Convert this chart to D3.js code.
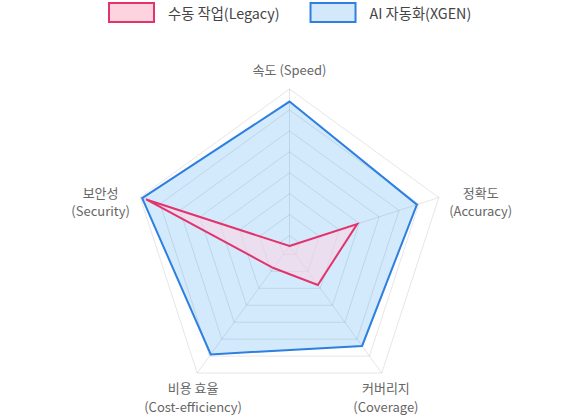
<!DOCTYPE html>
<html>
<head>
<meta charset="utf-8">
<script src="https://cdn.jsdelivr.net/npm/d3@7"></script>
<style>
	body{margin:0;background:#fff;font-family:"Noto Sans CJK KR","Noto Sans",sans-serif;}
	svg{display:block;}
</style>
</head>
<body>
<div id="chart"></div>
<script>
// axes, clockwise from the top
let axisLabels = [['속도 (Speed)'],['정확도','(Accuracy)'],['커버리지','(Coverage)'],['비용 효율','(Cost-efficiency)'],['보안성','(Security)']]
let seriesNames = ['수동 작업(Legacy)','AI 자동화(XGEN)']
let legacyValues = [25,59,48,38,97]
let xgenValues = [94,89,84,89,99]
let tickValues = [30,40,50,60,70,80,90,100]
let scaleMin = 25
let scaleMax = 100

function drawRadar(){
	let width = 580, height = 417
	let cx = 289.5, cy = 246, R = 157

	let svg = d3.select('#chart').append('svg').attr('width',width).attr('height',height)

	let r = d3.scaleLinear().domain([scaleMin,scaleMax]).range([0,R])
	let angle = d3.scalePoint().domain(d3.range(axisLabels.length+1)).range([0,Math.PI*2])

	let g = svg.append('g').attr('transform','translate('+cx+','+cy+')')

	let line = d3.lineRadial()
		.angle(function(d,i){return angle(i)})
		.radius(function(d){return r(d)})
		.curve(d3.curveLinearClosed)

	// grid rings
	tickValues.forEach(function(t){
		g.append('path')
			.attr('d',line(axisLabels.map(function(){return t})))
			.attr('fill','none')
			.attr('stroke','rgba(0,0,0,0.1)')
			.attr('stroke-width',1)
	})

	// spokes
	axisLabels.forEach(function(l,i){
		let a = angle(i)
		g.append('line')
			.attr('x1',0).attr('y1',0)
			.attr('x2',Math.sin(a)*r(scaleMax)).attr('y2',-Math.cos(a)*r(scaleMax))
			.attr('stroke','rgba(0,0,0,0.1)')
			.attr('stroke-width',1)
	})

	let series = [
		{values:xgenValues,fill:'rgba(33,150,243,0.2)',stroke:'#2d7fe0'},
		{values:legacyValues,fill:'rgba(252,214,230,0.6)',stroke:'#e3336c'}
	]

	series.forEach(function(s){
		g.append('path')
			.attr('d',line(s.values))
			.attr('fill',s.fill)
			.attr('stroke',s.stroke)
			.attr('stroke-width',2)
			.attr('stroke-linejoin','miter')
	})

	// point labels
	axisLabels.forEach(function(lines,i){
		let a = angle(i)
		let sx = Math.sin(a), cy2 = -Math.cos(a)
		let px = sx*(R+14), py = cy2*(R+14)
		let t = g.append('text')
			.attr('text-anchor','middle')
			.attr('fill','#666')
			.attr('font-size','13px')
		lines.forEach(function(txt,j){
			t.append('tspan').attr('x',0).attr('dy',j==0?0:18.5).text(txt)
		})
		let w = t.node().getBBox().width
		let x, y
		if(Math.abs(sx)<0.1){
			x = px; y = py-5
		} else if(cy2>0.5){
			x = sx*(R+7); y = py+4.5
		} else {
			x = px + (sx>0 ? w/2-3 : -w/2+3); y = py
		}
		t.attr('transform','translate('+x+','+(y+4.5)+')')
	})

	// legend
	let legend = svg.append('g')
	let legendFill = ['#fdd3df','#d4e8fc']
	let legendStroke = ['#e3336c','#2d7fe0']
	let lx = 109
	seriesNames.forEach(function(name,i){
		legend.append('rect')
			.attr('x',lx).attr('y',3).attr('width',45).attr('height',19)
			.attr('fill',legendFill[i]).attr('stroke',legendStroke[i]).attr('stroke-width',2)
		let t = legend.append('text')
			.attr('x',lx+59).attr('y',18.5)
			.attr('fill','#444').attr('font-size','14.3px')
			.text(name)
		lx = lx + 59 + t.node().getComputedTextLength() + 31
	})
}

drawRadar()
</script>
</body>
</html>
